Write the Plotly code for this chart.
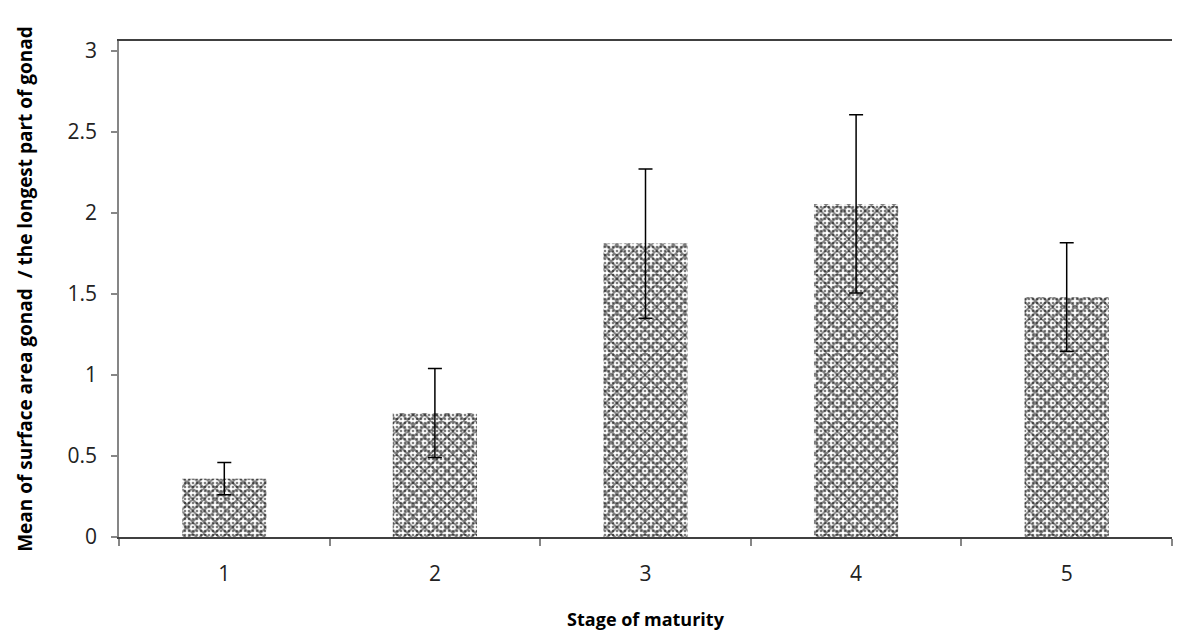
import plotly.graph_objects as go

# Gonad surface-area index by maturity stage
stages = ["1", "2", "3", "4", "5"]
mean_ratio = [0.36, 0.765, 1.81, 2.055, 1.48]
std_err = [0.10, 0.275, 0.46, 0.55, 0.335]
y_ticks = [0, 0.5, 1, 1.5, 2, 2.5, 3]
y_tick_text = ["0", "0.5", "1", "1.5", "2", "2.5", "3"]

font_family = "Open Sans, Carlito, Liberation Sans, sans-serif"

fig = go.Figure()

# cross-hatched base layer with error bars
fig.add_trace(go.Bar(
    x=stages, y=mean_ratio,
    marker=dict(
        color="white",
        line=dict(width=0),
        pattern=dict(shape="x", size=8, solidity=0.45,
                     fgcolor="black", bgcolor="white", fillmode="overlay"),
    ),
    error_y=dict(type="data", array=std_err, visible=True,
                 color="black", thickness=1.5, width=7),
    showlegend=False,
))
# dotted overlay for the denser checker texture
fig.add_trace(go.Bar(
    x=stages, y=mean_ratio,
    marker=dict(
        color="rgba(0,0,0,0)",
        line=dict(width=0),
        pattern=dict(shape=".", size=4, solidity=0.35,
                     fgcolor="black", bgcolor="rgba(0,0,0,0)", fillmode="overlay"),
    ),
    showlegend=False,
    hoverinfo="skip",
))

fig.update_layout(
    width=1180, height=637,
    margin=dict(l=119, r=8, t=41, b=100),
    paper_bgcolor="white", plot_bgcolor="white",
    barmode="overlay", bargap=0.6,
    font=dict(family=font_family, size=21, color="#222222"),
    xaxis=dict(
        type="category",
        showline=True, linecolor="#404040", linewidth=2,
        mirror=True,
        ticks="outside", tickson="boundaries", ticklen=7,
        tickcolor="#868686", tickwidth=1.5,
        showgrid=False, zeroline=False,
        tickfont=dict(size=21, color="#222222"),
        ticklabelstandoff=17,
        title=dict(text="<b>Stage of maturity</b>", standoff=27,
                   font=dict(size=18, color="black")),
    ),
    yaxis=dict(
        range=[0, 3.06],
        tickvals=y_ticks, ticktext=y_tick_text,
        showline=True, linecolor="#868686", linewidth=1.5,
        ticks="outside", ticklen=6, tickcolor="#868686", tickwidth=1.5,
        showgrid=False, zeroline=False,
        tickfont=dict(size=21, color="#222222"),
        ticklabelstandoff=10,
        title=dict(text="<b>Mean of surface area gonad  / the longest part of gonad</b>",
                   standoff=30, font=dict(size=19, color="black")),
    ),
)

fig.write_html("out.html")
